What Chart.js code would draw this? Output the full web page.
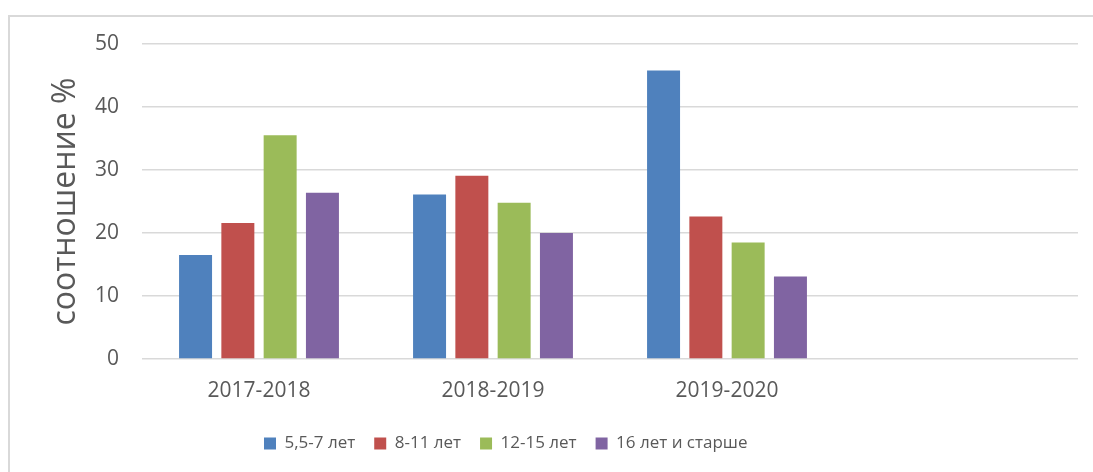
<!DOCTYPE html>
<html lang="ru">
  <head>
    <meta charset="UTF-8" />
    <title>соотношение %</title>
    <script src="https://cdn.jsdelivr.net/npm/chart.js"></script>
    <style>
      html, body { margin: 0; padding: 0; background: #fff; }
      #frame { position: absolute; left: 8px; top: 15px; width: 1200px; height: 600px; border: 2px solid #d9d9d9; }
      #wrap { position: absolute; left: 0; top: 0; width: 1093px; height: 472px; }
    </style>
  </head>
  <body>
    <div id="frame"></div>
    <div id="wrap"><canvas id="chart"></canvas></div>

    <script>
      // данные
      const years = ["2017-2018", "2018-2019", "2019-2020", ""];
      const age5to7 = [16.5, 26.1, 45.8, null];
      const age8to11 = [21.6, 29.1, 22.6, null];
      const age12to15 = [35.5, 24.8, 18.5, null];
      const age16plus = [26.4, 20.0, 13.1, null];
      const yTicks = [0, 10, 20, 30, 40, 50];

      const textColor = "#595959";
      const gridColor = "#d9d9d9";

      // сдвиг легенды влево, как в исходнике
      const legendShift = {
        id: "legendShift",
        afterLayout(chart) {
          const lg = chart.legend;
          const pad = lg.options.labels.padding;
          lg.left = 264 - pad;
        }
      };

      new Chart(document.getElementById("chart"), {
        type: "bar",
        data: {
          labels: years,
          datasets: [
            { label: "5,5-7 лет", data: age5to7, backgroundColor: "#4F81BD" },
            { label: "8-11 лет", data: age8to11, backgroundColor: "#C0504D" },
            { label: "12-15 лет", data: age12to15, backgroundColor: "#9BBB59" },
            { label: "16 лет и старше", data: age16plus, backgroundColor: "#8064A2" }
          ]
        },
        options: {
          responsive: true,
          maintainAspectRatio: false,
          animation: false,
          categoryPercentage: 0.723,
          barPercentage: 0.78,
          layout: { padding: { top: 44, right: 15, bottom: 10, left: 0 } },
          plugins: {
            tooltip: { enabled: false },
            legend: {
              position: "bottom",
              align: "start",
              labels: {
                color: textColor,
                font: { family: "Open Sans", size: 17 },
                boxWidth: 12,
                boxHeight: 12,
                padding: 19
              }
            }
          },
          scales: {
            x: {
              grid: { display: false },
              border: { display: false },
              ticks: {
                color: textColor,
                font: { family: "Open Sans", size: 21 },
                padding: 11,
                maxRotation: 0
              },
              afterFit(scale) { scale.height = 57; }
            },
            y: {
              min: 0,
              max: 50,
              afterBuildTicks(scale) { scale.ticks = yTicks.map(v => ({ value: v })); },
              grid: { color: gridColor, lineWidth: 1.5, drawTicks: false },
              border: { display: false },
              ticks: {
                color: textColor,
                font: { family: "Open Sans", size: 21 },
                padding: 23
              },
              title: {
                display: true,
                text: "соотношение %",
                color: textColor,
                font: { family: "Open Sans", size: 32 },
                padding: { top: 47, bottom: 0 }
              },
              afterFit(scale) { scale.width = 142; }
            }
          }
        },
        plugins: [legendShift]
      });
    </script>
  </body>
</html>
